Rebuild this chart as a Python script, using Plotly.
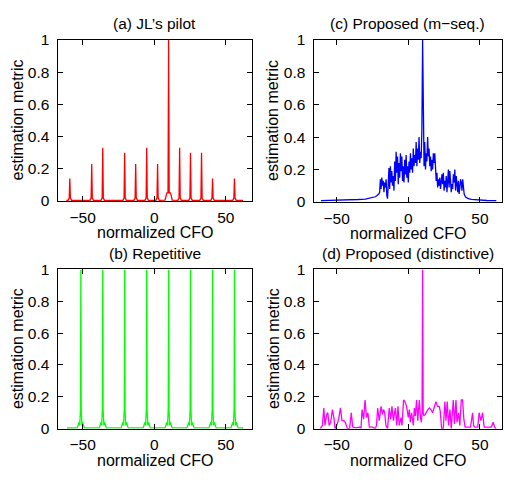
import plotly.graph_objects as go

# ---------------- data ----------------
# (a) JL's pilot
xa = [-61.5,
      -60.2, -59.4, -59.0, -58.6, -57.8,
      -44.9, -44.1, -43.7, -43.3, -42.5,
      -37.2, -36.4, -36.0, -35.6, -34.8,
      -21.9, -21.1, -20.7, -20.3, -19.5,
      -14.2, -13.4, -13.0, -12.6, -11.8,
      -6.5, -5.7, -5.3, -4.9, -4.1,
      1.1, 1.9, 2.3, 2.7, 3.5,
      7.5, 8.2, 8.8, 9.6, 10.0, 10.4, 11.2, 11.8, 12.5,
      16.5, 17.3, 17.7, 18.1, 18.9,
      24.1, 24.9, 25.3, 25.7, 26.5,
      31.8, 32.6, 33.0, 33.4, 34.2,
      39.5, 40.3, 40.7, 41.1, 41.9,
      54.8, 55.6, 56.0, 56.4, 57.2,
      62.0]
ya = [0.003,
      0.004, 0.02, 0.14, 0.02, 0.004,
      0.004, 0.02, 0.23, 0.02, 0.004,
      0.004, 0.02, 0.33, 0.02, 0.004,
      0.004, 0.02, 0.30, 0.02, 0.004,
      0.004, 0.02, 0.23, 0.02, 0.004,
      0.004, 0.02, 0.33, 0.02, 0.004,
      0.004, 0.02, 0.23, 0.02, 0.004,
      0.005, 0.035, 0.05, 0.05, 1.0, 0.05, 0.05, 0.035, 0.005,
      0.004, 0.02, 0.33, 0.02, 0.004,
      0.004, 0.02, 0.30, 0.02, 0.004,
      0.004, 0.02, 0.30, 0.02, 0.004,
      0.004, 0.02, 0.14, 0.02, 0.004,
      0.004, 0.02, 0.14, 0.02, 0.004,
      0.003]

# (b) Repetitive
xb = [-61.0,
      -53.8, -52.5, -52.1, -51.55, -51.3, -51.05, -50.5, -50.1, -48.8,
      -38.5, -37.2, -36.8, -36.25, -36.0, -35.75, -35.2, -34.8, -33.5,
      -23.2, -21.9, -21.5, -20.95, -20.7, -20.45, -19.9, -19.5, -18.2,
      -7.8, -6.5, -6.1, -5.55, -5.3, -5.05, -4.5, -4.1, -2.8,
      7.5, 8.8, 9.2, 9.75, 10.0, 10.25, 10.8, 11.2, 12.5,
      22.8, 24.1, 24.5, 25.05, 25.3, 25.55, 26.1, 26.5, 27.8,
      38.2, 39.5, 39.9, 40.45, 40.7, 40.95, 41.5, 41.9, 43.2,
      53.5, 54.8, 55.2, 55.75, 56.0, 56.25, 56.8, 57.2, 58.5,
      62.0]
yb = [0.004,
      0.005, 0.04, 0.02, 0.12, 1.0, 0.12, 0.02, 0.04, 0.005,
      0.005, 0.04, 0.02, 0.12, 1.0, 0.12, 0.02, 0.04, 0.005,
      0.005, 0.04, 0.02, 0.12, 1.0, 0.12, 0.02, 0.04, 0.005,
      0.005, 0.04, 0.02, 0.12, 1.0, 0.12, 0.02, 0.04, 0.005,
      0.005, 0.04, 0.02, 0.12, 1.0, 0.12, 0.02, 0.04, 0.005,
      0.005, 0.04, 0.02, 0.12, 1.0, 0.12, 0.02, 0.04, 0.005,
      0.005, 0.04, 0.02, 0.12, 1.0, 0.12, 0.02, 0.04, 0.005,
      0.005, 0.04, 0.02, 0.12, 1.0, 0.12, 0.02, 0.04, 0.005,
      0.004]

# (c) Proposed (m-seq.)
xc = [-61.0, -55.0, -50.0, -45.0, -40.0, -35.0, -30.0, -27.0, -25.0, -23.0, -22.0, -21.0, -20.5,
      -20.0, -19.5, -19.0, -18.5, -18.0, -17.5, -17.0, -16.5, -16.0, -15.5,
      -15.0, -14.5, -14.0, -13.5, -13.0, -12.5, -12.0, -11.5, -11.0, -10.5,
      -10.0, -9.5, -9.0, -8.5, -8.0, -7.5, -7.0, -6.5, -6.0, -5.5,
      -5.0, -4.5, -4.0, -3.5, -3.0, -2.5, -2.0, -1.5, -1.0, -0.5,
      0.0, 0.5, 1.0, 1.5, 2.0, 2.5, 3.0, 3.5, 4.0, 4.5,
      5.0, 5.5, 6.0, 6.5, 7.0, 7.5, 8.0, 8.5, 9.0, 9.5,
      10.0, 10.5, 11.0, 11.5, 12.0, 12.5, 13.0, 13.5, 14.0, 14.5,
      15.0, 15.5, 16.0, 16.5, 17.0, 17.5, 18.0, 18.5, 19.0, 19.5,
      20.0, 20.5, 21.0, 21.5, 22.0, 22.5, 23.0, 23.5, 24.0, 24.5,
      25.0, 25.5, 26.0, 26.5, 27.0, 27.5, 28.0, 28.5, 29.0, 29.5,
      30.0, 30.5, 31.0, 31.5, 32.0, 32.5, 33.0, 33.5, 34.0, 34.5,
      35.0, 35.5, 36.0, 36.5, 37.0, 37.5, 38.0, 38.5, 39.0, 39.5,
      40.0, 41.0, 42.0, 44.0, 47.0, 50.0, 55.0, 61.5]
yc = [0.008, 0.009, 0.010, 0.011, 0.013, 0.015, 0.018, 0.022, 0.026, 0.032, 0.038, 0.045, 0.05,
      0.06, 0.14, 0.08, 0.15, 0.10, 0.13, 0.06, 0.12, 0.09, 0.14,
      0.04, 0.02, 0.11, 0.21, 0.08, 0.22, 0.12, 0.19, 0.10, 0.16,
      0.07, 0.25, 0.13, 0.31, 0.18, 0.28, 0.11, 0.24, 0.15, 0.30,
      0.19, 0.28, 0.13, 0.22, 0.12, 0.26, 0.17, 0.29, 0.15, 0.22,
      0.12, 0.25, 0.18, 0.30, 0.20, 0.27, 0.18, 0.33, 0.22, 0.29,
      0.24, 0.37, 0.22, 0.33, 0.26, 0.40, 0.24, 0.31, 0.27, 0.45,
      1.00, 0.45, 0.22, 0.37, 0.20, 0.30, 0.25, 0.40, 0.28, 0.33,
      0.22, 0.28, 0.19, 0.26, 0.20, 0.30, 0.24, 0.30, 0.17, 0.13,
      0.18, 0.09, 0.14, 0.10, 0.15, 0.08, 0.12, 0.17, 0.11, 0.18,
      0.07, 0.13, 0.09, 0.16, 0.06, 0.12, 0.20, 0.09, 0.19, 0.13,
      0.06, 0.11, 0.08, 0.17, 0.12, 0.20, 0.07, 0.16, 0.10, 0.06,
      0.13, 0.05, 0.09, 0.14, 0.12, 0.07, 0.14, 0.08, 0.05, 0.04,
      0.03, 0.025, 0.02, 0.016, 0.013, 0.011, 0.009, 0.008]

# (d) Proposed (distinctive)
xd = [-61.5, -60.0, -59.0, -58.2, -57.0, -56.2, -55.3, -54.2, -53.0, -51.8, -51.2, -50.0,
      -48.6, -47.4, -46.3, -45.0, -44.0, -43.3, -42.5, -41.0, -39.8, -38.8, -37.0, -34.0,
      -33.0, -32.3, -31.2, -30.2, -29.2, -28.2, -27.2, -25.0, -23.0, -22.2, -21.4, -20.3,
      -19.0, -18.0, -17.3, -16.5, -15.6, -14.5, -13.3, -12.3, -11.4, -10.4, -9.0, -8.0,
      -7.2, -6.3, -5.1, -4.4, -3.3, -2.4, -1.2, 0.0, 0.7, 1.4, 2.3, 3.5,
      4.2, 4.9, 5.8, 6.6, 7.7, 8.4, 9.1, 9.6, 10.0, 10.4, 10.9, 11.8,
      12.8, 13.7, 14.7, 15.8, 17.0, 18.1, 19.3, 20.4, 21.6, 22.3, 23.3, 24.4,
      25.6, 26.3, 27.2, 28.1, 29.1, 30.0, 31.4, 32.3, 33.3, 34.0, 35.1, 36.0,
      37.0, 37.9, 38.8, 39.7, 43.5, 44.9, 45.6, 46.5, 48.5, 49.5, 50.7, 51.9,
      53.0, 58.0, 59.3, 60.3, 61.2]
yd = [0.0, 0.02, 0.13, 0.02, 0.09, 0.10, 0.02, 0.04, 0.12, 0.06, 0.0, 0.02,
      0.06, 0.13, 0.05, 0.05, 0.04, 0.02, 0.0, 0.0, 0.10, 0.01, 0.005, 0.01,
      0.005, 0.12, 0.06, 0.18, 0.07, 0.10, 0.01, 0.01, 0.0, 0.02, 0.13, 0.05,
      0.14, 0.09, 0.12, 0.10, 0.02, 0.0, 0.13, 0.06, 0.14, 0.05, 0.13, 0.02,
      0.14, 0.02, 0.07, 0.02, 0.18, 0.17, 0.14, 0.07, 0.12, 0.04, 0.10, 0.02,
      0.13, 0.08, 0.18, 0.05, 0.18, 0.08, 0.04, 0.10, 1.0, 0.10, 0.08, 0.09,
      0.11, 0.12, 0.13, 0.12, 0.10, 0.14, 0.17, 0.14, 0.14, 0.11, 0.0, 0.0,
      0.17, 0.05, 0.17, 0.02, 0.12, 0.0, 0.18, 0.03, 0.18, 0.04, 0.10, 0.02,
      0.18, 0.18, 0.06, 0.01, 0.01, 0.10, 0.02, 0.01, 0.01, 0.10, 0.05, 0.10,
      0.01, 0.01, 0.04, 0.01, 0.0]

titles = ["(a) JL\u2019s pilot", "(b) Repetitive", "(c) Proposed (m\u2212seq.)", "(d) Proposed (distinctive)"]
ylabel = "estimation metric"
xlabel = "normalized CFO"
y_ticks = [0, 0.2, 0.4, 0.6, 0.8, 1]
y_ticktext = ["0", "0.2", "0.4", "0.6", "0.8", "1"]
x_ticks = [-50, 0, 50]

# ---------------- layout geometry ----------------
W, H = 505, 482
FONT = "Liberation Sans, Arial, Helvetica, sans-serif"

# panel pixel boxes: (left, right, top, bottom)
boxes = {
    "a": (57.5, 251.5, 32, 199),
    "b": (57.5, 251.5, 270, 435),
    "c": (313.5, 501.5, 32, 200),
    "d": (313.5, 501.5, 270, 435),
}
xranges = {"a": [-67.6, 67.9], "b": [-67.6, 67.9], "c": [-66.2, 65.1], "d": [-66.2, 65.1]}

fig = go.Figure()
series = [("a", xa, ya, "#ff0000"), ("c", xc, yc, "#0000ff"),
          ("b", xb, yb, "#00ff00"), ("d", xd, yd, "#ff00ff")]

layout = dict(width=W, height=H, margin=dict(l=0, r=0, t=0, b=0),
              paper_bgcolor="white", plot_bgcolor="white", showlegend=False,
              font=dict(family=FONT, color="black"))

annotations = []
for i, (key, xs, ys, col) in enumerate(series, start=1):
    sfx = "" if i == 1 else str(i)
    fig.add_trace(go.Scatter(x=xs, y=ys, mode="lines",
                             line=dict(color=col, width=1.3),
                             xaxis="x" + sfx, yaxis="y" + sfx, hoverinfo="skip"))
    l, r, t, b = boxes[key]
    common = dict(showline=True, linecolor="black", linewidth=1, mirror="ticks",
                  ticks="inside", ticklen=5, tickcolor="black", tickwidth=1,
                  showgrid=False, zeroline=False,
                  tickfont=dict(family=FONT, size=15.5, color="black"))
    layout["xaxis" + sfx] = dict(domain=[l / W, r / W], range=xranges[key],
                                 anchor="y" + sfx, tickvals=x_ticks,
                                 ticklabelstandoff=2, **common)
    layout["yaxis" + sfx] = dict(domain=[1 - b / H, 1 - t / H], range=[0, 1],
                                 anchor="x" + sfx, tickvals=y_ticks, ticktext=y_ticktext,
                                 ticklabelstandoff=4, **common)
    cx = (l + r) / 2
    cy = (t + b) / 2
    tidx = {"a": 0, "b": 1, "c": 2, "d": 3}[key]
    annotations.append(dict(text=titles[tidx], x=cx / W, y=1 - (t - 16.5) / H,
                            xref="paper", yref="paper", showarrow=False,
                            xanchor="center", yanchor="middle",
                            font=dict(family=FONT, size=15.5, color="black")))
    annotations.append(dict(text=xlabel, x=cx / W, y=1 - (b + 33) / H,
                            xref="paper", yref="paper", showarrow=False,
                            xanchor="center", yanchor="middle",
                            font=dict(family=FONT, size=16, color="black")))
    annotations.append(dict(text=ylabel, x=(l - 40.5) / W, y=1 - cy / H,
                            xref="paper", yref="paper", showarrow=False,
                            textangle=-90, xanchor="center", yanchor="middle",
                            font=dict(family=FONT, size=16, color="black")))

layout["annotations"] = annotations
fig.update_layout(**layout)
fig.write_html("out.html")
